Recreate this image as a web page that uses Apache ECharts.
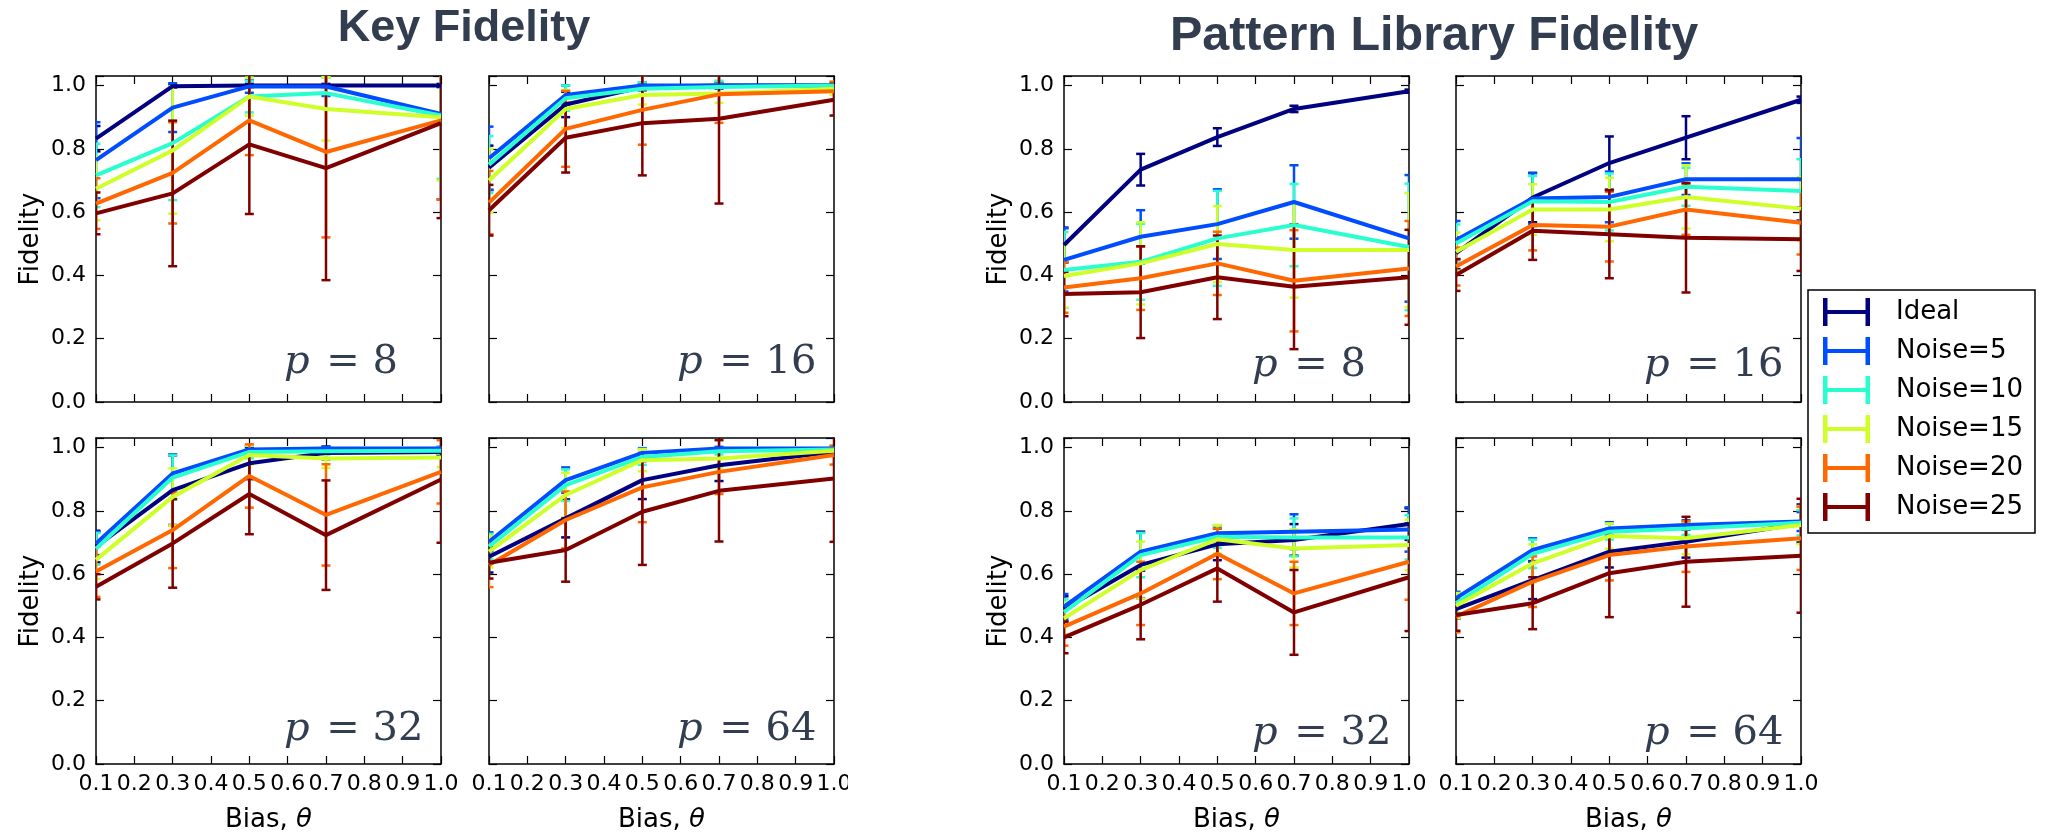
<!DOCTYPE html>
<html>
<head>
<meta charset="utf-8">
<script src="https://cdn.jsdelivr.net/npm/echarts@6/dist/echarts.min.js"></script>
<style>
html,body{margin:0;padding:0;background:#ffffff;}
#chart{width:2050px;height:836px;}
</style>
</head>
<body>
<div id="chart"></div>
<script>
// ---------------- data ----------------
const bias = [0.1, 0.3, 0.5, 0.7, 1.0];
const seriesNames = ['Ideal', 'Noise=5', 'Noise=10', 'Noise=15', 'Noise=20', 'Noise=25'];
const groupTitles = ['Key Fidelity', 'Pattern Library Fidelity'];
const panelP = ['8', '16', '32', '64', '8', '16', '32', '64'];

// Key fidelity: means (rows = series, cols = bias)
const keyP8Mean = [
  [0.832, 0.998, 1.000, 1.000, 1.000],
  [0.764, 0.930, 0.997, 0.997, 0.910],
  [0.716, 0.818, 0.965, 0.976, 0.905],
  [0.674, 0.795, 0.965, 0.926, 0.900],
  [0.627, 0.724, 0.890, 0.790, 0.890],
  [0.596, 0.659, 0.814, 0.739, 0.881]
];
const keyP8Err = [
  [0.040, 0.005, 0.005, 0.005, 0.005],
  [0.120, 0.077, 0.020, 0.030, 0.270],
  [0.100, 0.180, 0.050, 0.050, 0.200],
  [0.100, 0.200, 0.060, 0.100, 0.200],
  [0.080, 0.160, 0.110, 0.270, 0.250],
  [0.066, 0.230, 0.220, 0.354, 0.300]
];
const keyP16Mean = [
  [0.740, 0.940, 0.995, 1.000, 1.000],
  [0.770, 0.970, 1.000, 1.000, 1.000],
  [0.750, 0.960, 0.990, 0.995, 1.000],
  [0.700, 0.926, 0.970, 0.975, 0.990],
  [0.630, 0.863, 0.923, 0.972, 0.982],
  [0.606, 0.835, 0.881, 0.895, 0.955]
];
const keyP16Err = [
  [0.070, 0.040, 0.010, 0.005, 0.005],
  [0.100, 0.030, 0.010, 0.010, 0.005],
  [0.090, 0.040, 0.020, 0.020, 0.010],
  [0.100, 0.060, 0.030, 0.030, 0.020],
  [0.100, 0.120, 0.110, 0.090, 0.030],
  [0.080, 0.110, 0.165, 0.268, 0.050]
];
const keyP32Mean = [
  [0.687, 0.865, 0.950, 0.983, 0.986],
  [0.697, 0.918, 0.994, 0.997, 0.997],
  [0.680, 0.905, 0.986, 0.988, 0.990],
  [0.645, 0.844, 0.976, 0.965, 0.968],
  [0.608, 0.739, 0.910, 0.787, 0.923],
  [0.560, 0.697, 0.853, 0.723, 0.899]
];
const keyP32Err = [
  [0.050, 0.110, 0.050, 0.020, 0.010],
  [0.037, 0.060, 0.010, 0.005, 0.005],
  [0.050, 0.070, 0.020, 0.010, 0.010],
  [0.060, 0.090, 0.030, 0.030, 0.030],
  [0.080, 0.120, 0.100, 0.160, 0.100],
  [0.040, 0.140, 0.127, 0.173, 0.200]
];
const keyP64Mean = [
  [0.655, 0.776, 0.897, 0.944, 0.986],
  [0.702, 0.897, 0.983, 0.997, 0.997],
  [0.687, 0.881, 0.970, 0.988, 0.994],
  [0.671, 0.850, 0.960, 0.965, 0.990],
  [0.629, 0.771, 0.874, 0.923, 0.976],
  [0.636, 0.676, 0.797, 0.863, 0.902]
];
const keyP64Err = [
  [0.050, 0.060, 0.060, 0.050, 0.010],
  [0.030, 0.040, 0.015, 0.005, 0.005],
  [0.040, 0.050, 0.025, 0.010, 0.005],
  [0.050, 0.070, 0.035, 0.030, 0.010],
  [0.070, 0.090, 0.110, 0.070, 0.030],
  [0.050, 0.100, 0.168, 0.160, 0.200]
];

// Pattern library fidelity
const plP8Mean = [
  [0.496, 0.734, 0.837, 0.926, 0.982],
  [0.449, 0.522, 0.562, 0.632, 0.517],
  [0.417, 0.443, 0.517, 0.559, 0.490],
  [0.398, 0.438, 0.499, 0.480, 0.480],
  [0.362, 0.391, 0.438, 0.383, 0.422],
  [0.341, 0.347, 0.394, 0.364, 0.394]
];
const plP8Err = [
  [0.055, 0.050, 0.028, 0.010, 0.005],
  [0.100, 0.084, 0.110, 0.116, 0.200],
  [0.120, 0.120, 0.150, 0.130, 0.200],
  [0.100, 0.130, 0.120, 0.150, 0.180],
  [0.080, 0.100, 0.100, 0.160, 0.150],
  [0.070, 0.145, 0.132, 0.197, 0.150]
];
const plP16Mean = [
  [0.470, 0.646, 0.755, 0.835, 0.955],
  [0.512, 0.643, 0.648, 0.704, 0.704],
  [0.501, 0.634, 0.632, 0.680, 0.667],
  [0.475, 0.608, 0.608, 0.648, 0.611],
  [0.428, 0.559, 0.554, 0.608, 0.566],
  [0.401, 0.541, 0.530, 0.519, 0.514]
];
const plP16Err = [
  [0.050, 0.078, 0.084, 0.068, 0.010],
  [0.060, 0.080, 0.080, 0.050, 0.130],
  [0.060, 0.080, 0.090, 0.060, 0.100],
  [0.060, 0.080, 0.100, 0.100, 0.100],
  [0.060, 0.080, 0.110, 0.080, 0.100],
  [0.050, 0.092, 0.139, 0.173, 0.100]
];
const plP32Mean = [
  [0.490, 0.629, 0.694, 0.708, 0.758],
  [0.497, 0.671, 0.729, 0.734, 0.741],
  [0.480, 0.660, 0.718, 0.716, 0.716],
  [0.460, 0.613, 0.710, 0.681, 0.692],
  [0.434, 0.539, 0.664, 0.539, 0.639],
  [0.400, 0.503, 0.618, 0.479, 0.590]
];
const plP32Err = [
  [0.040, 0.105, 0.050, 0.050, 0.050],
  [0.040, 0.060, 0.025, 0.055, 0.070],
  [0.040, 0.070, 0.035, 0.060, 0.070],
  [0.050, 0.090, 0.045, 0.060, 0.080],
  [0.060, 0.100, 0.080, 0.100, 0.120],
  [0.050, 0.109, 0.105, 0.134, 0.170]
];
const plP64Mean = [
  [0.489, 0.581, 0.671, 0.702, 0.760],
  [0.524, 0.676, 0.744, 0.755, 0.766],
  [0.508, 0.664, 0.734, 0.744, 0.762],
  [0.500, 0.634, 0.720, 0.713, 0.755],
  [0.466, 0.576, 0.660, 0.687, 0.713],
  [0.471, 0.508, 0.603, 0.639, 0.658]
];
const plP64Err = [
  [0.030, 0.060, 0.050, 0.050, 0.060],
  [0.020, 0.037, 0.020, 0.015, 0.030],
  [0.030, 0.045, 0.025, 0.020, 0.040],
  [0.040, 0.060, 0.040, 0.050, 0.060],
  [0.050, 0.080, 0.080, 0.080, 0.100],
  [0.050, 0.082, 0.139, 0.142, 0.180]
];

const panelMeans = [keyP8Mean, keyP16Mean, keyP32Mean, keyP64Mean, plP8Mean, plP16Mean, plP32Mean, plP64Mean];
const panelErrs  = [keyP8Err, keyP16Err, keyP32Err, keyP64Err, plP8Err, plP16Err, plP32Err, plP64Err];

// ---------------- style / layout ----------------
const colors = ['#000080', '#004cff', '#29ffce', '#ceff29', '#ff6800', '#800000'];
const panelW = 345, panelH = 326;
const panelLeft = [96, 489, 96, 489, 1064, 1456, 1064, 1456];
const panelTop  = [76, 76, 438, 438, 76, 76, 438, 438];
const labelY    = [363, 363, 730, 730, 366, 366, 734, 734];
const textDark = '#323e4f';

const chart = echarts.init(document.getElementById('chart'), null, {renderer: 'canvas'});

const grids = [], xAxes = [], yAxes = [], series = [];
const axisLineStyle = {color: '#000', width: 1.5};
const tickStyle = {color: '#000', width: 1.2};
const yFmt = v => (Math.abs(v * 5 - Math.round(v * 5)) < 1e-6 ? v.toFixed(1) : '');
const xFmt = v => v.toFixed(1);

for (let i = 0; i < 8; i++) {
  const isLeftCol = (i % 2 === 0);
  const isBottom = (i % 4 >= 2);
  grids.push({left: panelLeft[i], top: panelTop[i], width: panelW, height: panelH, containLabel: false});
  const xBase = {
    type: 'value', gridIndex: i, min: 0.1, max: 1.0, interval: 0.1,
    splitLine: {show: false},
    axisLine: {show: true, onZero: false, lineStyle: axisLineStyle},
    axisTick: {show: true, inside: true, length: 8, lineStyle: tickStyle}
  };
  xAxes.push(Object.assign({}, xBase, {
    position: 'bottom',
    axisLabel: {show: isBottom, formatter: xFmt, fontFamily: 'DejaVu Sans', fontSize: 22, color: '#000', margin: 9},
    name: isBottom ? 'Bias, {i|θ}' : '',
    nameLocation: 'middle', nameGap: 43,
    nameTextStyle: {fontFamily: 'DejaVu Sans', fontSize: 26, color: '#000',
      rich: {i: {fontFamily: 'DejaVu Sans', fontSize: 26, fontStyle: 'italic', color: '#000'}}}
  }));
  xAxes.push(Object.assign({}, xBase, {position: 'top', axisLabel: {show: false}}));
  const yBase = {
    type: 'value', gridIndex: i, min: 0, max: 1.03, interval: 0.2,
    splitLine: {show: false},
    axisLine: {show: true, onZero: false, lineStyle: axisLineStyle},
    axisTick: {show: true, inside: true, length: 8, lineStyle: tickStyle}
  };
  yAxes.push(Object.assign({}, yBase, {
    position: 'left',
    axisLabel: {show: isLeftCol, formatter: yFmt, fontFamily: 'DejaVu Sans', fontSize: 22, color: '#000', margin: 10},
    name: isLeftCol ? 'Fidelity' : '',
    nameLocation: 'middle', nameGap: 52,
    nameTextStyle: {fontFamily: 'DejaVu Sans', fontSize: 26, color: '#000'}
  }));
  yAxes.push(Object.assign({}, yBase, {position: 'right', axisLabel: {show: false}}));

  const means = panelMeans[i], errs = panelErrs[i];
  for (let s = 0; s < seriesNames.length; s++) {
    const col = colors[s];
    series.push({
      type: 'line', name: seriesNames[s],
      xAxisIndex: 2 * i, yAxisIndex: 2 * i,
      data: bias.map((b, k) => [b, means[s][k]]),
      symbol: 'none', showSymbol: false, clip: true,
      lineStyle: {color: col, width: 4},
      itemStyle: {color: col},
      animation: false, z: 2
    });
    series.push({
      type: 'custom', name: seriesNames[s],
      xAxisIndex: 2 * i, yAxisIndex: 2 * i,
      data: bias.map((b, k) => [b, means[s][k] - errs[s][k], means[s][k] + errs[s][k]]),
      encode: {x: 0, y: [1, 2]},
      clip: true, animation: false, z: 2,
      itemStyle: {color: col},
      renderItem: (params, api) => {
        const x = api.value(0), lo = api.value(1), hi = api.value(2);
        const pl = api.coord([x, lo]), ph = api.coord([x, hi]);
        const cap = 4.5;
        const st = {stroke: col, lineWidth: 2.5, fill: null};
        return {type: 'group', children: [
          {type: 'line', shape: {x1: pl[0], y1: pl[1], x2: ph[0], y2: ph[1]}, style: st},
          {type: 'line', shape: {x1: pl[0] - cap, y1: pl[1], x2: pl[0] + cap, y2: pl[1]}, style: st},
          {type: 'line', shape: {x1: ph[0] - cap, y1: ph[1], x2: ph[0] + cap, y2: ph[1]}, style: st}
        ]};
      }
    });
  }
}

const hIcon = 'path://M0,0 H4.5 V12 H42.5 V0 H47 V28 H42.5 V16 H4.5 V28 H0 Z';

const graphics = [
  {type: 'text', x: 464, y: 29, z: 100,
   style: {text: groupTitles[0], font: 'bold 45px "Liberation Sans", Arial, sans-serif', fill: textDark, align: 'center', verticalAlign: 'middle'}},
  {type: 'text', x: 1434, y: 37, z: 100,
   style: {text: groupTitles[1], font: 'bold 48.5px "Liberation Sans", Arial, sans-serif', fill: textDark, align: 'center', verticalAlign: 'middle'}},
  // mask reproducing the cropped right edge of the left figure
  {type: 'rect', shape: {x: 848, y: 768, width: 140, height: 36}, style: {fill: '#ffffff'}, z: 100}
];
for (let i = 0; i < 8; i++) {
  graphics.push({
    type: 'text', x: panelLeft[i] + 188, y: labelY[i], z: 100,
    style: {
      text: '{i|p} = ' + panelP[i],
      font: '40px "DejaVu Serif", serif', fill: textDark, align: 'left', verticalAlign: 'middle',
      rich: {i: {font: 'italic 40px "DejaVu Serif", serif', fill: textDark, padding: [0, 4, 0, 0]}}
    }
  });
}

chart.setOption({
  backgroundColor: '#ffffff',
  animation: false,
  grid: grids,
  xAxis: xAxes,
  yAxis: yAxes,
  series: series,
  legend: {
    orient: 'vertical', left: 1808, top: 290,
    padding: [8, 12, 12, 15], itemGap: 11, itemWidth: 47, itemHeight: 28,
    borderColor: '#000', borderWidth: 1.5, borderRadius: 0, backgroundColor: '#ffffff',
    selectedMode: false,
    textStyle: {fontFamily: 'DejaVu Sans', fontSize: 26, color: '#000', padding: [0, 0, 0, 21]},
    data: seriesNames.map(n => ({name: n, icon: hIcon}))
  },
  graphic: graphics
});
</script>
</body>
</html>
